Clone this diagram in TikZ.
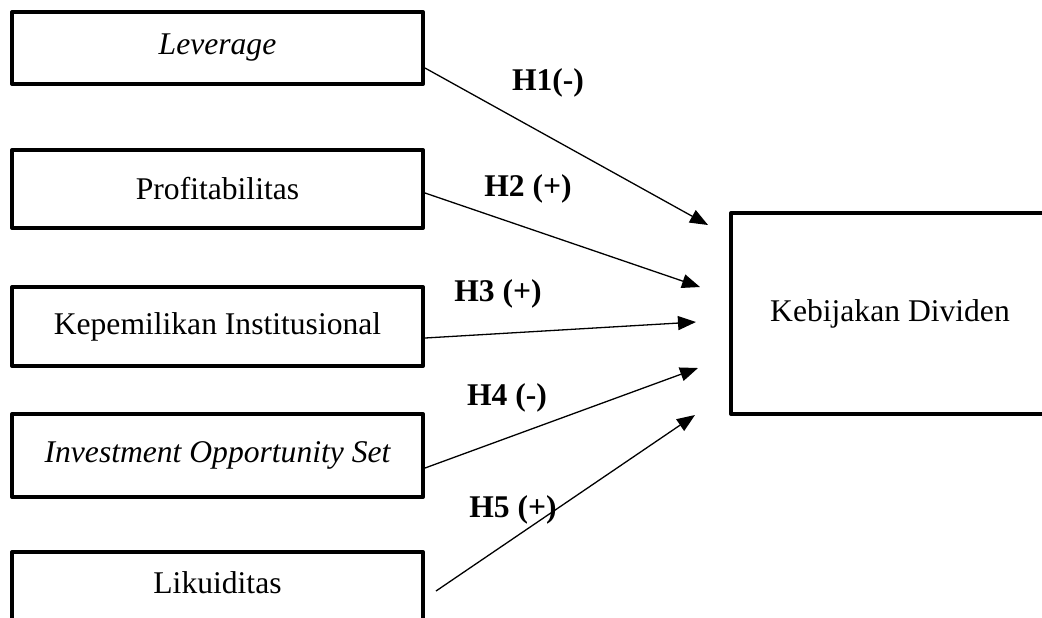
\documentclass[tikz,border=0pt]{standalone}
\usepackage{fontspec}
\setmainfont{Liberation Serif}
\usetikzlibrary{arrows.meta}
\begin{document}
\begin{tikzpicture}[x=0.5pt,y=-0.5pt,
  box/.style={draw,line width=2pt,line join=round,rectangle,inner sep=0pt,
    font=\fontsize{15.8}{19}\selectfont},
  lbl/.style={font=\fontsize{15.8}{19}\selectfont\bfseries,inner sep=0pt},
  conn/.style={line width=0.65pt,-{Triangle[length=9pt,width=7pt]}}]
\useasboundingbox (0,0) rectangle (1042,617);
\clip (0,0) rectangle (1042,617);
\node[box,minimum width=205.5pt,minimum height=36pt] (b1) at (217.5,48) {\itshape Leverage};
\node[box,minimum width=205.5pt,minimum height=39pt] (b2) at (217.5,189) {Profitabilitas};
\node[box,minimum width=205.5pt,minimum height=39.5pt] (b3) at (217.5,326.5) {Kepemilikan Institusional};
\node[box,minimum width=205.5pt,minimum height=41.5pt] (b4) at (217.5,455.5) {\itshape Investment Opportunity Set};
\node[box,minimum width=205.5pt,minimum height=50pt,text depth=19pt] (b5) at (217.5,602) {Likuiditas};
\node[box,minimum width=159pt,minimum height=100.5pt] (kd) at (890,313.5) {Kebijakan Dividen};
\coordinate (t1) at (708,225);
\coordinate (t2) at (700,287);
\coordinate (t3) at (696,322);
\coordinate (t4) at (698,368);
\coordinate (t5) at (695,415);
\draw[conn] ([yshift=-10pt]b1.east) -- (t1);
\draw[conn] ([yshift=-2pt]b2.east) -- (t2);
\draw[conn] ([yshift=-5.75pt]b3.east) -- (t3);
\draw[conn] ([yshift=-6.25pt]b4.east) -- (t4);
\draw[conn] ([xshift=5.5pt,yshift=5.5pt]b5.east) -- (t5);
\node[lbl] (l1) at (548,83) {H1(-)};
\node[lbl] (l2) at (528,189) {H2 (+)};
\node[lbl] (l3) at (498,294) {H3 (+)};
\node[lbl] (l4) at (507,398) {H4 (-)};
\node[lbl] (l5) at (513,510) {H5 (+)};
\end{tikzpicture}
\end{document}
